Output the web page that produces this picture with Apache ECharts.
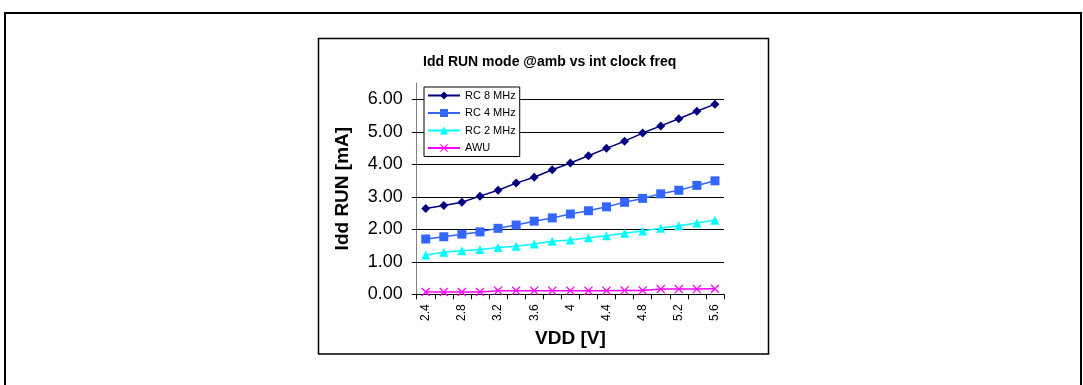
<!DOCTYPE html>
<html>
<head>
<meta charset="utf-8">
<script src="https://cdn.jsdelivr.net/npm/echarts@6/dist/echarts.min.js"></script>
<style>
  html, body { margin: 0; padding: 0; background: #fff; }
  #chart { width: 1083px; height: 385px; }
</style>
</head>
<body>
<div id="chart"></div>
<script>
const vdd = ['2.4','2.6','2.8','3','3.2','3.4','3.6','3.8','4','4.2','4.4','4.6','4.8','5','5.2','5.4','5.6']
const rc8 = [2.64,2.73,2.83,3.02,3.20,3.42,3.60,3.83,4.04,4.26,4.49,4.71,4.96,5.18,5.40,5.63,5.85]
const rc4 = [1.70,1.77,1.85,1.92,2.03,2.13,2.25,2.35,2.47,2.57,2.69,2.83,2.95,3.09,3.20,3.35,3.49]
const rc2 = [1.21,1.29,1.34,1.38,1.44,1.48,1.55,1.63,1.67,1.74,1.80,1.88,1.95,2.03,2.11,2.19,2.28]
const awu = [0.07,0.07,0.07,0.07,0.11,0.11,0.11,0.11,0.11,0.11,0.11,0.12,0.12,0.16,0.16,0.16,0.17]

const font = "'Liberation Sans', Arial, sans-serif"
const cross = 'path://M0,1L1,0L5,4L9,0L10,1L6,5L10,9L9,10L5,6L1,10L0,9L4,5Z'

const myChart = echarts.init(document.getElementById('chart'))

const mkSeries = (name, data, color, symbol, size) => ({
  name,
  type: 'line',
  data,
  symbol,
  symbolSize: size,
  showAllSymbol: true,
  color,
  lineStyle: { width: 1.5, color },
  itemStyle: { color },
  animation: false
})

const option = {
  textStyle: { fontFamily: font },
  title: {
    text: 'Idd RUN mode @amb vs int clock freq',
    left: 418,
    top: 50,
    textStyle: { fontSize: 14, fontWeight: 'bold', color: '#000', fontFamily: font }
  },
  legend: {
    orient: 'vertical',
    left: 424,
    top: 87,
    itemWidth: 32,
    itemHeight: 10,
    itemGap: 6.5,
    padding: [3, 4, 3, 3],
    backgroundColor: '#fff',
    borderColor: '#000',
    borderWidth: 1,
    borderRadius: 0,
    textStyle: { fontSize: 11, color: '#000', fontFamily: font },
    data: ['RC 8 MHz', 'RC 4 MHz', 'RC 2 MHz', 'AWU']
  },
  grid: { left: 416.7, top: 83, right: 359, bottom: 90.7 },
  xAxis: {
    type: 'category',
    data: vdd,
    boundaryGap: true,
    name: 'VDD [V]',
    nameLocation: 'middle',
    nameGap: 33,
    nameTextStyle: { fontSize: 19, fontWeight: 'bold', color: '#000', fontFamily: font },
    axisLine: { lineStyle: { color: '#000', width: 1 } },
    axisTick: { show: true, interval: 0, length: 5, lineStyle: { color: '#000' } },
    axisLabel: { interval: 1, rotate: 90, fontSize: 12, color: '#000', margin: 10 },
    splitLine: { show: false }
  },
  yAxis: {
    type: 'value',
    min: 0,
    max: 6.5,
    interval: 1,
    name: 'Idd RUN [mA]',
    nameLocation: 'middle',
    nameRotate: 90,
    nameGap: 64,
    nameTextStyle: { fontSize: 19, fontWeight: 'bold', color: '#000', fontFamily: font },
    axisLine: { show: true, lineStyle: { color: '#808080', width: 1 } },
    axisTick: { show: true, length: 5, lineStyle: { color: '#000' } },
    axisLabel: {
      fontSize: 18,
      color: '#000',
      margin: 14,
      showMaxLabel: false,
      formatter: v => (Number.isInteger(v) ? v.toFixed(2) : '')
    },
    splitLine: { show: true, showMaxLine: false, lineStyle: { color: '#000', width: 1 } }
  },
  graphic: [
    {
      type: 'rect',
      shape: { x: 5, y: 13, width: 1076, height: 380 },
      style: { fill: null, stroke: '#000', lineWidth: 2 },
      silent: true
    },
    {
      type: 'rect',
      shape: { x: 318.5, y: 38.5, width: 450, height: 315.5 },
      style: { fill: null, stroke: '#000', lineWidth: 1.5 },
      silent: true
    }
  ],
  series: [
    mkSeries('RC 8 MHz', rc8, '#000080', 'diamond', 9),
    mkSeries('RC 4 MHz', rc4, '#3366ff', 'rect', 9),
    mkSeries('RC 2 MHz', rc2, '#00ffff', 'triangle', 9),
    mkSeries('AWU', awu, '#ff00ff', cross, 9)
  ]
}

option && myChart.setOption(option)
</script>
</body>
</html>
